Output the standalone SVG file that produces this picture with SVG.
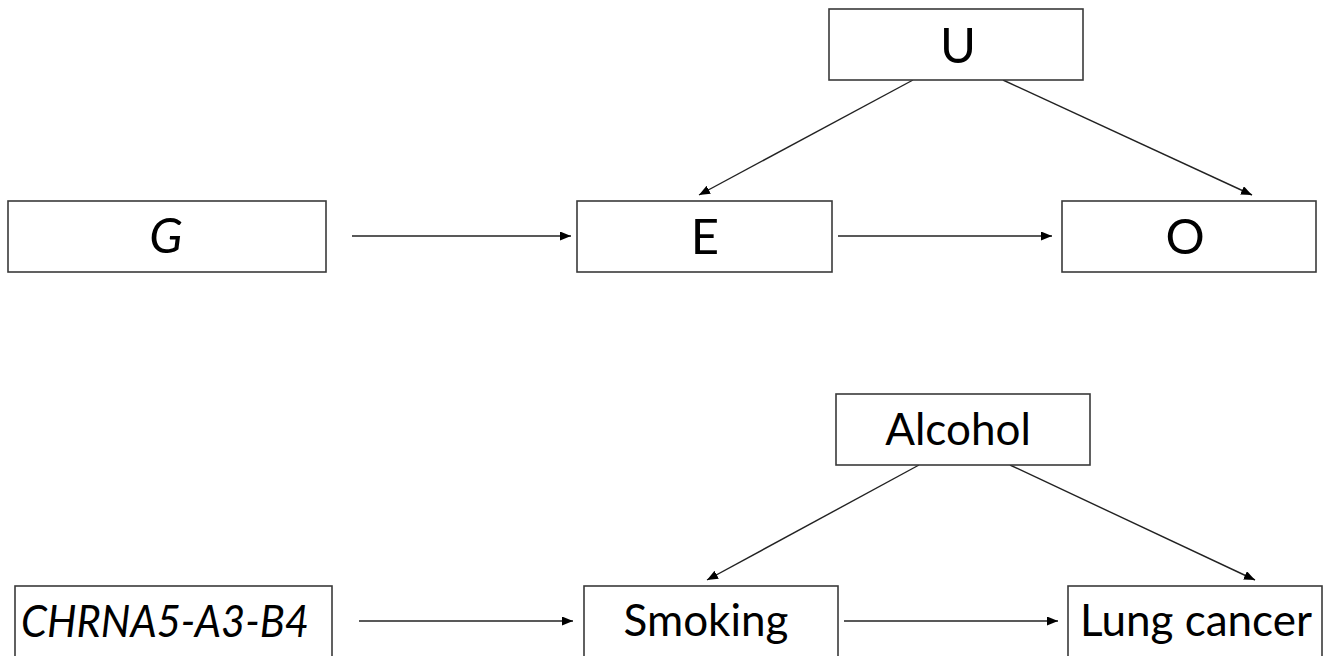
<svg xmlns="http://www.w3.org/2000/svg" width="1334" height="656" viewBox="0 0 1334 656">
<style>
.box{fill:#fff;stroke:#3a3a3a;stroke-width:1.6}
.t{font-family:Lato,"Open Sans","Liberation Sans",sans-serif;fill:#000;text-anchor:middle}
.big{font-size:49px}
.sm{font-size:44px}
.it{font-style:italic}
.c{stroke:#222;stroke-width:1.4;fill:none;marker-end:url(#ah)}
</style>
<defs>
<marker id="ah" markerUnits="userSpaceOnUse" markerWidth="12" markerHeight="10" refX="11" refY="4.5" orient="auto">
<path d="M0,0 L11,4.5 L0,9 z" fill="#000"/>
</marker>
</defs>
<rect width="1334" height="656" fill="#fff"/>
<g id="connectors">
<line class="c" x1="352" y1="236" x2="571" y2="236"/>
<line class="c" x1="838" y1="236" x2="1052" y2="236"/>
<line class="c" x1="913" y1="80" x2="699" y2="195"/>
<line class="c" x1="1003" y1="80" x2="1252" y2="195"/>
<line class="c" x1="359" y1="621" x2="573" y2="621"/>
<line class="c" x1="844" y1="621" x2="1058" y2="621"/>
<line class="c" x1="919" y1="465" x2="707" y2="580"/>
<line class="c" x1="1010" y1="465" x2="1255" y2="580"/>
</g>
<g id="node-U">
<rect class="box" x="829" y="9" width="254" height="71"/>
<text class="t big" x="958" y="63">U</text>
</g>
<g id="node-G">
<rect class="box" x="8" y="201" width="318" height="71"/>
<text class="t big it" x="166" y="253">G</text>
</g>
<g id="node-E">
<rect class="box" x="577" y="201" width="255" height="71"/>
<text class="t big" x="705" y="254">E</text>
</g>
<g id="node-O">
<rect class="box" x="1062" y="201" width="254" height="71"/>
<text class="t big" x="1185" y="254">O</text>
</g>
<g id="node-Alcohol">
<rect class="box" x="836" y="394" width="254" height="71"/>
<text class="t sm" x="958" y="445">Alcohol</text>
</g>
<g id="node-CHRNA5">
<rect class="box" x="15" y="586" width="317" height="90"/>
<text class="t sm it" x="21" y="637" style="text-anchor:start" textLength="288" lengthAdjust="spacingAndGlyphs">CHRNA5-A3-B4</text>
</g>
<g id="node-Smoking">
<rect class="box" x="584" y="586" width="254" height="90"/>
<text class="t sm" x="706" y="636">Smoking</text>
</g>
<g id="node-Lung">
<rect class="box" x="1068" y="586" width="254" height="90"/>
<text class="t sm" x="1196" y="636">Lung cancer</text>
</g>
</svg>
